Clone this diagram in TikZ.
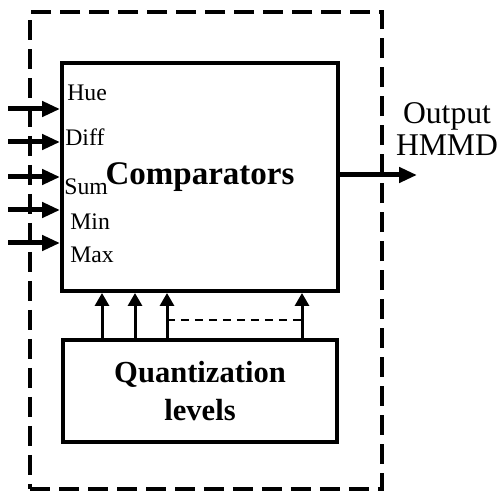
\documentclass[tikz,border=0pt]{standalone}
\usepackage{fontspec}
\setmainfont{Liberation Serif}
\usepackage{tikz}
\usetikzlibrary{arrows.meta}

\begin{document}
\begin{tikzpicture}[
        x=0.02cm, y=-0.02cm,
        block/.style={draw, line width=0.08cm, inner sep=0pt},
        frame/.style={draw, line width=0.08cm, dash pattern=on 0.4cm off 0.18cm, inner sep=0pt},
        lbl/.style={font=\fontsize{13.5}{15}\selectfont, inner sep=0pt, anchor=west},
        big/.style={font=\fontsize{18.8}{19}\selectfont\bfseries},
        inarrow/.style={line width=0.1cm, -{Triangle[length=0.36cm, width=0.3cm]}},
        uparrow/.style={line width=0.06cm, -{Triangle[length=0.26cm, width=0.28cm]}}
    ]
    \useasboundingbox (0,0) rectangle (501,493);
    % system frame and the two blocks
    \node[frame, minimum width=7.04cm, minimum height=9.54cm] (sys) at (206,250.5) {};
    \node[block, big, minimum width=5.52cm, minimum height=4.56cm] (cmp) at (200,177) {Comparators};
    \node[block, minimum width=5.48cm, minimum height=2.04cm, align=center,
          font=\fontsize{17.4}{20}\selectfont\bfseries] (quant) at (200,391) {\raisebox{2pt}{Quantization}\\levels};

    % inputs
    \node[lbl] (hue) at (67,93) {Hue};
    \node[lbl] (diff) at (65,137) {Diff};
    \node[lbl] (sum) at (64,187) {Sum};
    \node[lbl] (min) at (70,222) {Min};
    \node[lbl] (max) at (70,255) {Max};
    \foreach \n/\y in {1/109, 2/142, 3/177, 4/210, 5/243} {
        \coordinate (in\n) at (8,\y);
        \draw[inarrow] (in\n) -- (cmp.west |- in\n);
    }

    % output
    \coordinate (outend) at (417,175);
    \draw[inarrow] (cmp.east |- outend) -- (outend);
    \node[align=center, inner sep=0pt, font=\fontsize{18}{18}\selectfont] (outtxt) at (447,129) {Output\\HMMD};

    % quantization levels into the comparators
    \foreach \x in {102,135,167,302}
        \draw[uparrow] (quant.north -| \x,0) -- (cmp.south -| \x,0);
    \draw[line width=0.04cm, dash pattern=on 0.16cm off 0.12cm] (167,320) -- (302,320);
\end{tikzpicture}
\end{document}
